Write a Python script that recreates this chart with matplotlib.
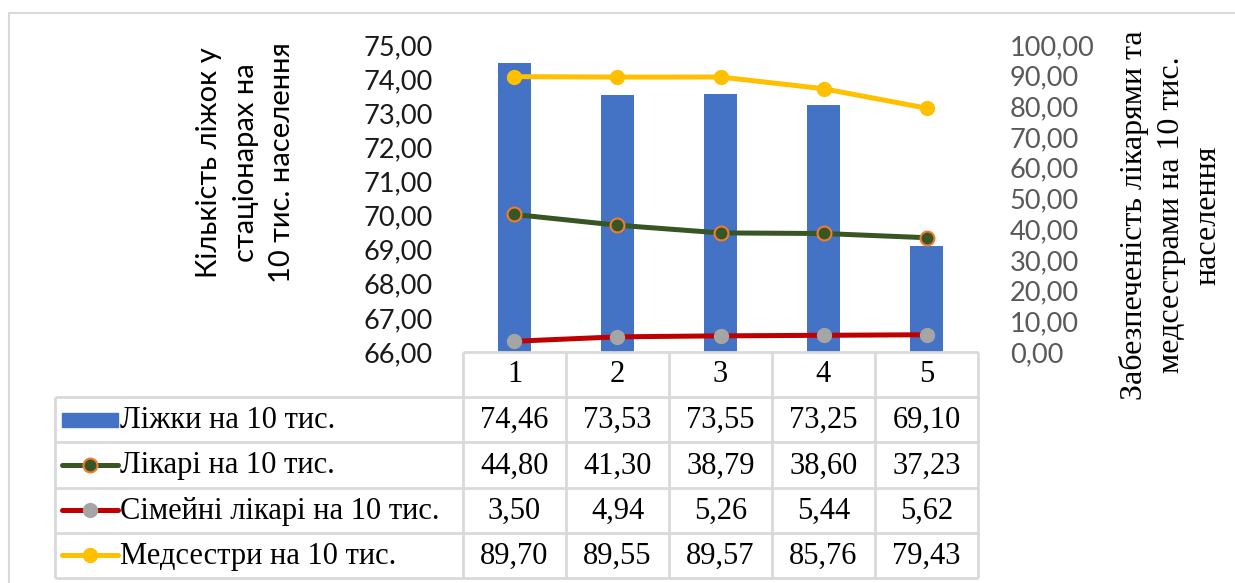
import matplotlib
matplotlib.use("Agg")
import matplotlib.pyplot as plt
import matplotlib.patches as mpatches

plt.rcParams["font.serif"] = ["Liberation Serif", "Times New Roman", "DejaVu Serif"]

# ---- data ----
categories = ["1", "2", "3", "4", "5"]
beds = [74.46, 73.53, 73.55, 73.25, 69.10]
doctors = [44.80, 41.30, 38.79, 38.60, 37.23]
family_doctors = [3.50, 4.94, 5.26, 5.44, 5.62]
nurses = [89.70, 89.55, 89.57, 85.76, 79.43]
series_names = ["Ліжки на 10 тис.", "Лікарі на 10 тис.",
                "Сімейні лікарі на 10 тис.", "Медсестри на 10 тис."]
left_ticks = [66, 67, 68, 69, 70, 71, 72, 73, 74, 75]
right_ticks = [0, 10, 20, 30, 40, 50, 60, 70, 80, 90, 100]
left_title = "Кількість ліжок у\nстаціонарах на\n10 тис. населення"
right_title = "Забезпеченість лікарями та\nмедсестрами на 10 тис.\nнаселення"

W, H = 1235, 583
fig = plt.figure(figsize=(W / 100, H / 100), dpi=100)

def px_axes(x0, y0, x1, y1):
    return fig.add_axes([x0 / W, 1 - y1 / H, (x1 - x0) / W, (y1 - y0) / H])

SANS = ["Lato", "DejaVu Sans"]
GRID = "#D9D9D9"

def fmt(v):
    return f"{v:.2f}".replace(".", ",")

# chart frame
frame = px_axes(0, 0, W, H)
frame.set_xlim(0, W); frame.set_ylim(H, 0); frame.axis("off")
frame.plot([9, 9, W + 5], [H + 5, 13, 13], color=GRID, lw=1.5)

# ---- main plot ----
x = list(range(len(categories)))
ax = px_axes(463, 45, 978, 352)
ax.bar(x, [b - left_ticks[0] for b in beds], bottom=left_ticks[0], width=0.32,
       color="#4472C4", zorder=2)
ax.set_xlim(-0.5, len(categories) - 0.5)
ax.set_ylim(left_ticks[0], left_ticks[-1])
ax.set_yticks(left_ticks)
ax.set_yticklabels([fmt(t) for t in left_ticks], family=SANS, fontsize=19.5,
                   color="#1a1a1a")
ax.tick_params(axis="y", length=0, pad=22)
ax.set_xticks([])
for s in ax.spines.values():
    s.set_visible(False)
ax.patch.set_alpha(0)

ax2 = ax.twinx()
ax2.set_ylim(right_ticks[0], right_ticks[-1])
ax2.set_yticks(right_ticks)
ax2.set_yticklabels([fmt(t) for t in right_ticks], family=SANS, fontsize=19.5,
                    color="#595959")
ax2.tick_params(axis="y", length=0, pad=23)
for s in ax2.spines.values():
    s.set_visible(False)

styles = [
    dict(color="#375623", lw=3.6, marker="o", ms=10, mfc="#375623", mec="#ED7D31", mew=1.5),
    dict(color="#C00000", lw=3.6, marker="o", ms=11, mfc="#A5A5A5", mec="#A5A5A5", mew=0),
    dict(color="#FFC000", lw=3.6, marker="o", ms=11, mfc="#FFC000", mec="#FFC000", mew=0),
]
for vals, st in zip([doctors, family_doctors, nurses], styles):
    ax2.plot(x, vals, zorder=3, clip_on=False, solid_capstyle="round", **st)

# axis titles
fig.text(246 / W, 1 - 163 / H, left_title, rotation=90, ha="center", va="center",
         family=SANS, fontsize=21, multialignment="center", linespacing=1.5)
fig.text(1171 / W, 1 - 215 / H, right_title, rotation=90, ha="center", va="center",
         family="serif", fontsize=23, multialignment="center", linespacing=1.35)

# ---- data table ----
tab = px_axes(463, 352, 978, 578)
tab.set_xlim(-0.5, len(categories) - 0.5)
nrows = 1 + len(series_names)
tab.set_ylim(nrows, 0)
tab.axis("off")
col_w_px = 515 / len(categories)
left_edge = -0.5 - (463 - 55) / col_w_px
lkw = dict(color=GRID, lw=2, clip_on=False, solid_capstyle="butt")
tab.plot([-0.5, len(categories) - 0.5], [0, 0], **lkw)
for r in range(1, nrows + 1):
    tab.plot([left_edge, len(categories) - 0.5], [r, r], **lkw)
for c in range(len(categories) + 1):
    tab.plot([c - 0.5, c - 0.5], [0, nrows], **lkw)
tab.plot([left_edge, left_edge], [1, nrows], **lkw)

tfs = 22
for i, cat in enumerate(categories):
    tab.text(i, 0.5, cat, ha="center", va="center", family="serif", fontsize=tfs)
all_vals = [beds, doctors, family_doctors, nurses]
for r, vals in enumerate(all_vals, start=1):
    for i, v in enumerate(vals):
        tab.text(i, r + 0.52, fmt(v), ha="center", va="center", family="serif",
                 fontsize=tfs)

key_x0 = left_edge + (62 - 55) / col_w_px
key_x1 = left_edge + (118 - 55) / col_w_px
text_x = left_edge + (120 - 55) / col_w_px
for r, name in enumerate(series_names, start=1):
    yc = r + 0.5
    if r == 1:
        tab.add_patch(mpatches.Rectangle((key_x0, yc - 0.16), key_x1 - key_x0, 0.32,
                                         color="#4472C4", clip_on=False))
    else:
        st = styles[r - 2]
        tab.plot([key_x0, key_x1], [yc, yc], clip_on=False, solid_capstyle="round",
                 color=st["color"], lw=st["lw"])
        tab.plot([(key_x0 + key_x1) / 2], [yc], clip_on=False, marker="o",
                 ms=st["ms"], mfc=st["mfc"], mec=st["mec"], mew=st["mew"], ls="none")
    tab.text(text_x, yc + 0.02, name, ha="left", va="center", family="serif", fontsize=tfs)

fig.savefig("out.png", dpi=100)
